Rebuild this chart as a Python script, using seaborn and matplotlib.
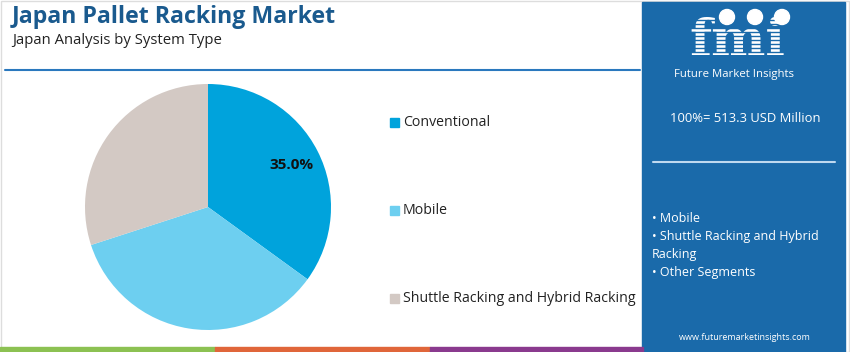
import matplotlib
matplotlib.use("Agg")
import matplotlib.pyplot as plt
import seaborn as sns
import numpy as np
from matplotlib.patches import Rectangle, Circle

sns.set_theme(style="white")
plt.rcParams['font.family'] = ['Open Sans', 'DejaVu Sans']

# ---- data ----
categories = ["Conventional", "Mobile", "Shuttle Racking and Hybrid Racking"]
shares = [35.0, 35.0, 30.0]
labels_shown = ["35.0%", "", ""]
colors = ["#00A3DC", "#6DCFF0", "#D3C9C4"]
title = "Japan Pallet Racking Market"
subtitle = "Japan Analysis by System Type"
total_text = "100%= 513.3 USD Million"
side_items = ["• Mobile", "• Shuttle Racking and Hybrid", "Racking", "• Other Segments"]
website = "www.futuremarketinsights.com"

W, H = 850, 352
fig = plt.figure(figsize=(W / 100, H / 100), dpi=100)
fig.patch.set_facecolor("white")

# background layer in pixel coordinates
bg = fig.add_axes([0, 0, 1, 1])
bg.set_xlim(0, W)
bg.set_ylim(H, 0)
bg.axis("off")

panel_col = "#1A6AAA"
# outer light border
bg.add_patch(Rectangle((0.5, 0.5), W - 1, H - 1, fill=False, ec="#DDDDDD", lw=1))
# right panel
bg.add_patch(Rectangle((642, 2), 203, H - 2, color=panel_col, zorder=1))
# bottom stripes
for x0, x1, c in [(0, 215, "#8CC152"), (215, 430, "#E0663A"), (430, 643, "#8A3A8E")]:
    bg.add_patch(Rectangle((x0, 347), x1 - x0, 5, color=c, zorder=2))
# title rule
bg.plot([5, 640], [70, 70], color="#2A78BE", lw=1.5)

bg.text(12, 17, title, fontsize=16.7, fontweight="bold", color="#1A5A8E",
        va="center", ha="left")
bg.text(12, 41, subtitle, fontsize=10.7, color="#222222", va="center", ha="left")

# legend
leg_y = [122, 210, 298]
for cat, col, y in zip(categories, colors, leg_y):
    bg.add_patch(Rectangle((390, y - 4.5), 9, 9, color=col))
    bg.text(403, y, cat, fontsize=10.2, color="#222222", va="center", ha="left")

# logo
t = bg.text(737, 55, "fmi", fontsize=37, fontweight="bold", color="white",
            va="baseline", ha="center", family="DejaVu Serif", zorder=3)
t.set_stretch("expanded")
for yy in range(20, 58, 4):
    bg.plot([668, 808], [yy, yy], color=panel_col, lw=1.0, zorder=4)
for cx in [727, 755, 782]:
    bg.add_patch(Circle((cx, 17), 7.5, color="white", zorder=5))
bg.text(734, 74.5, "Future Market Insights", fontsize=8.2, color="white",
        va="center", ha="center", zorder=5)

bg.text(745, 118, total_text, fontsize=9.4, color="white", va="center", ha="center", zorder=5)
bg.plot([653, 835], [162, 162], color="#BFD9F0", lw=1.5, zorder=5)
for i, s in enumerate(side_items):
    bg.text(652, 219 + i * 17.7, s, fontsize=9.0, color="white",
            va="center", ha="left", zorder=5)
bg.text(745, 337, website, fontsize=6.5, color="white", va="center", ha="center", zorder=5)

# pie
cx, cy, r = 208, 207, 123
ax = fig.add_axes([(cx - r) / W, (H - cy - r) / H, 2 * r / W, 2 * r / H])
wedges, _ = ax.pie(shares, colors=colors, startangle=90, counterclock=False,
                   radius=1, wedgeprops=dict(linewidth=0))
cum = 0
for s, lab in zip(shares, labels_shown):
    mid = 90 - (cum + s / 2) * 3.6
    cum += s
    if lab:
        ang = np.deg2rad(mid)
        ax.text(0.76 * np.cos(ang), 0.76 * np.sin(ang), lab, ha="center",
                va="center", fontsize=11, fontweight="bold", color="#111111")
ax.set_xlim(-1, 1)
ax.set_ylim(-1, 1)
ax.set_aspect("equal")
ax.axis("off")

fig.savefig("out.png", dpi=100)
